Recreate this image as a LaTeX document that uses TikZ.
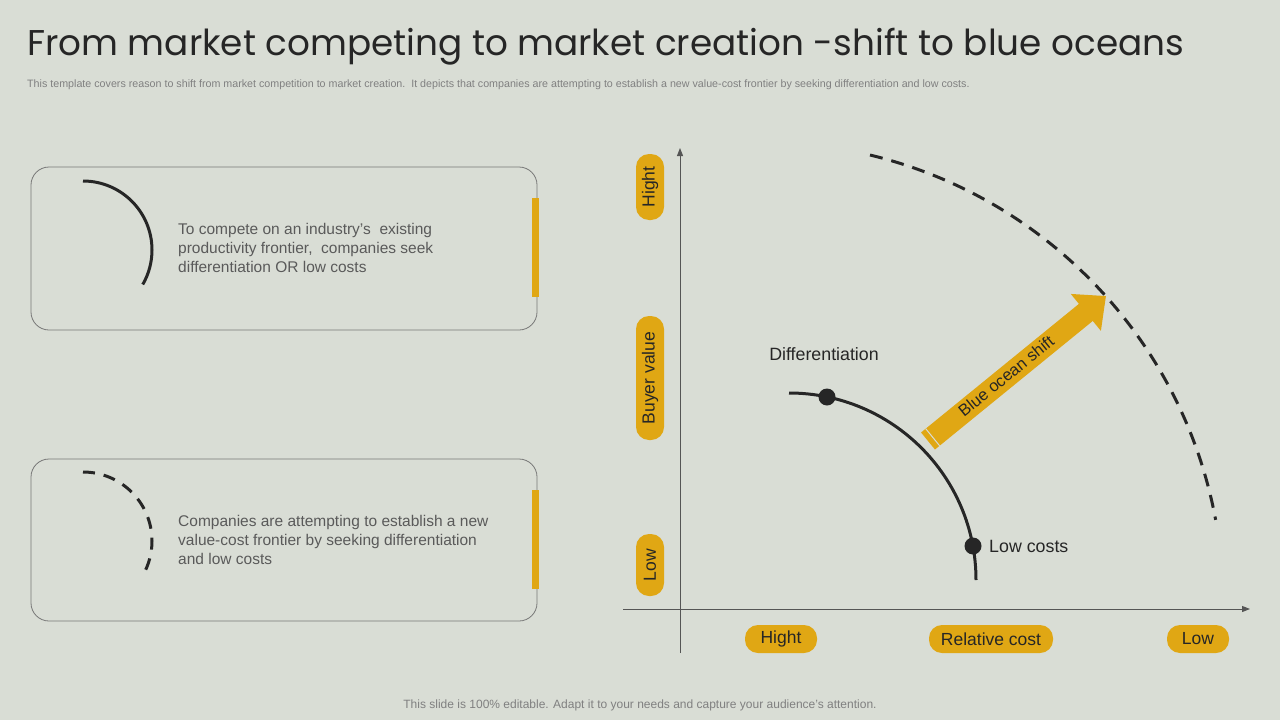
\documentclass[tikz,border=0pt]{standalone}
\usepackage{fontspec}
\setmainfont{Liberation Sans}
\newfontfamily\titlefont{Poppins}
\usetikzlibrary{positioning,arrows.meta,calc}
\definecolor{bgcol}{HTML}{D9DDD5}
\definecolor{gold}{HTML}{E0A714}
\definecolor{inkgray}{HTML}{5A5A5A}
\definecolor{axisgray}{HTML}{555555}

\begin{document}
\begin{tikzpicture}[x=1pt,y=-1pt,
			pill/.style={fill=gold,rounded corners=13pt,minimum height=28pt,inner xsep=8pt,font=\fontsize{17.5}{17.5}\selectfont,text=black!85},
			card/.style={draw=axisgray!80,line width=0.8pt,rounded corners=18pt},
			bar/.style={fill=gold,draw=none},
			body/.style={anchor=north west,align=left,text=inkgray,font=\fontsize{15.5}{19}\selectfont,inner sep=0pt},
			dot/.style={circle,fill=black!85,minimum size=17pt,inner sep=0pt}]
			\fill[bgcol] (0,0) rectangle (1280,720);
			\useasboundingbox (0,0) rectangle (1280,720);
			% heading
			\node (title) [anchor=west,inner sep=0pt,text=black!85] at (27,47) {\titlefont\fontsize{35.8}{36}\selectfont From market competing to market creation -shift to blue oceans};
			\node (subtitle) [anchor=west,inner sep=0pt,text=gray] at (27,85) {\fontsize{10.7}{11}\selectfont This template covers reason to shift from market competition to market creation.\ \ It depicts that companies are attempting to establish a new value-cost frontier by seeking differentiation and low costs.};
			% left cards
			\draw[card] (31,167) rectangle (537,330);
			\fill[bar] (532,198) rectangle (539,297);
			\draw[black!85,line width=3pt] (83,181) arc[start angle=-90,end angle=30,radius=69];
			\node (cardtext1) [body] at (178,223) {To compete on an industry's\ \ existing\\productivity frontier,\ \ companies seek\\differentiation OR low costs};
			\draw[card] (31,459) rectangle (537,621);
			\fill[bar] (532,490) rectangle (539,589);
			\draw[black!85,line width=3pt,dash pattern=on 12pt off 9pt] (83,472) arc[start angle=-90,end angle=30,radius=69];
			\node (cardtext2) [body] at (178,515) {Companies are attempting to establish a new\\value-cost frontier by seeking differentiation\\and low costs};
			% axes
			\coordinate (ybot) at (680,653);
			\coordinate (ytop) at (680,148);
			\coordinate (xleft) at (623,609);
			\coordinate (xright) at (1250,609);
			\draw[axisgray,line width=1pt,-{Triangle[length=8pt,width=6pt]}] (ybot) -- (ytop);
			\draw[axisgray,line width=1pt,-{Triangle[length=8pt,width=6pt]}] (xleft) -- (xright);
			\node (yhigh) [pill,rotate=90,minimum width=66pt] at (650,187) {Hight};
			\node (yvalue) [pill,rotate=90,minimum width=124pt] at (650,378) {Buyer value};
			\node (ylow) [pill,rotate=90,minimum width=62pt] at (650,565) {Low};
			\node (xhigh) [pill,minimum width=72pt] at (781,639) {Hight};
			\node (xcost) [pill,minimum width=124pt] at (991,639) {Relative cost};
			\node (xlow) [pill,minimum width=62pt] at (1198,639) {Low};
			% frontiers
			\draw[black!85,line width=3pt] (789,393) arc[start angle=-90,end angle=0,radius=187];
			\node (diffdot) [dot] at (827,397) {};
			\node (lowdot) [dot] at (973,546) {};
			\node (difflabel) [font=\fontsize{17.8}{18}\selectfont,text=black!85] at (824,354) {Differentiation};
			\node (lowlabel) [right=4pt of lowdot,font=\fontsize{17.8}{18}\selectfont,text=black!85] {Low costs};
			\draw[black!85,line width=3pt,dash pattern=on 13pt off 9pt] (870,155) arc[start angle=-76.4,end angle=-10.5,radius=462];
			% shift arrow
			\coordinate (shiftfrom) at (928,441);
			\coordinate (shiftto) at (1106,296);
			\draw[gold,line width=22pt,-{Triangle[length=26pt,width=46pt]}] (shiftfrom) -- (shiftto);
			\draw[bgcol,line width=1pt] ($(shiftfrom)!6pt!(shiftto)+(-7,-8.6)$) -- ++(14,17.2);
			\node (shiftlabel) [rotate=39,font=\fontsize{16.5}{16.5}\selectfont,text=black!85] at (1006,376) {Blue ocean shift};
			% footer
			\node (footer) [text=gray,font=\fontsize{12}{12}\selectfont] at (640,705) {This slide is 100\% editable. Adapt it to your needs and capture your audience's attention.};
		\end{tikzpicture}
\end{document}
